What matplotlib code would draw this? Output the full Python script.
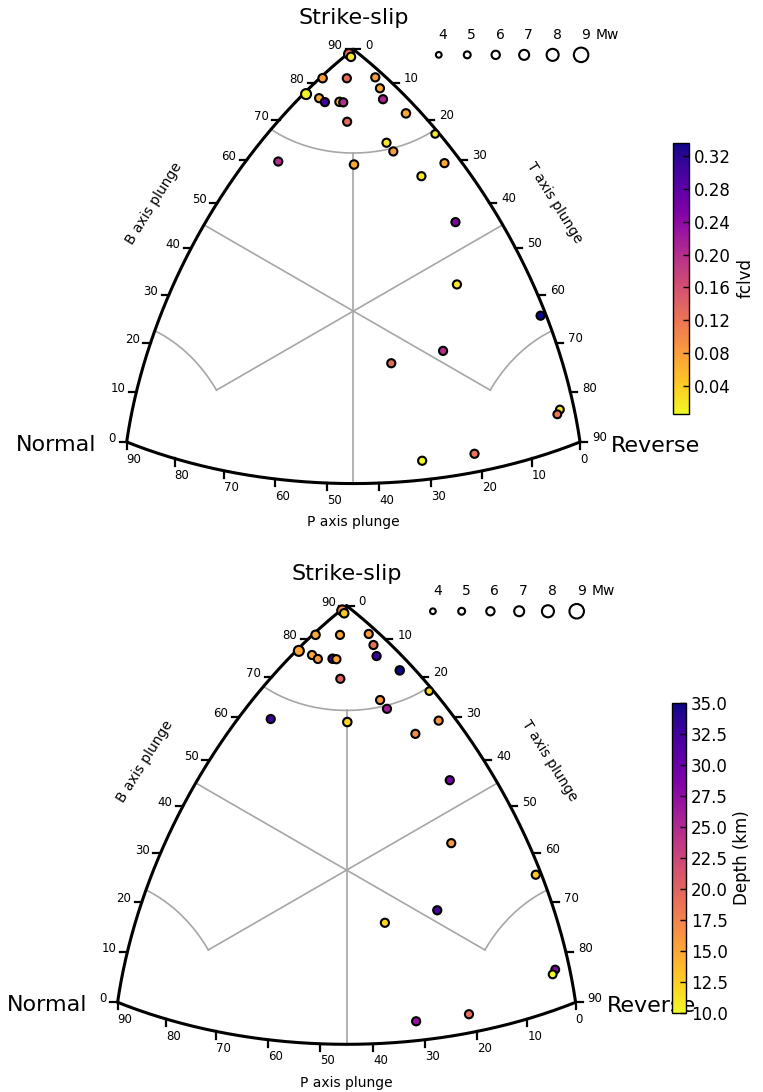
import numpy as np
import matplotlib
matplotlib.use("Agg")
import matplotlib.pyplot as plt

# ---------------- data (plunges in degrees) ----------------
plunge_T = [0.2, 0.9, 0.4, 3.7, 7.2, 9.5, 11.6, 0.4, 2.9, 4.3, 6.3, 6.9, 10.3, 16.6, 23.2,
            18.7, 20.9, 17.4, 28.9, 5.4, 28.2, 39.4, 48.7, 63.9, 55.0, 47.0, 81.8, 82.2, 68.4, 58.2]
plunge_B = [88.6, 88.1, 81.6, 83.6, 82.6, 80.2, 77.8, 77.1, 77.6, 77.3, 78.2, 78.1, 74.1, 73.2, 66.8,
            69.0, 66.8, 65.2, 60.9, 62.6, 60.4, 49.5, 37.7, 26.1, 25.5, 24.4, 7.6, 6.9, 3.8, 4.0]
plunge_P = [1.3, 1.5, 8.4, 5.4, 1.5, 2.5, 3.7, 12.9, 12.0, 11.9, 10.0, 9.6, 12.0, 2.4, 0.7,
            9.4, 9.6, 17.2, 3.0, 26.8, 8.4, 8.1, 14.3, 1.1, 22.3, 32.9, 2.9, 3.6, 21.2, 31.5]
fclvd = [0.12, 0.02, 0.08, 0.13, 0.08, 0.07, 0.21, 0.01, 0.07, 0.30, 0.06, 0.20, 0.13, 0.07, 0.02,
         0.02, 0.08, 0.07, 0.07, 0.20, 0.02, 0.25, 0.02, 0.336, 0.20, 0.13, 0.02, 0.12, 0.12, 0.006]
depth = [17, 13, 15, 15, 16, 19, 33, 15, 15, 16, 33, 15, 20, 35, 12,
         16, 26, 12, 16, 33, 17, 29, 16, 13, 32, 12, 28, 10, 19, 27]
mw = [7.0, 6.1, 6.1, 5.9, 5.9, 5.9, 5.9, 7.0, 5.9, 5.9, 6.1, 5.9, 5.9, 6.1, 5.5,
      5.9, 5.9, 6.1, 5.9, 5.9, 5.9, 5.9, 5.9, 5.9, 5.9, 5.9, 5.7, 5.7, 5.9, 5.9]

legend_mw = [4, 5, 6, 7, 8, 9]
axis_ticks = list(range(0, 91, 10))
fclvd_ticks = [0.04, 0.08, 0.12, 0.16, 0.20, 0.24, 0.28, 0.32]
depth_ticks = [10.0, 12.5, 15.0, 17.5, 20.0, 22.5, 25.0, 27.5, 30.0, 32.5, 35.0]


def msize(m):
    return 17.0 * 1.45 ** (np.asarray(m, dtype=float) - 4.0)


def kave(t, b, p):
    zt = np.sin(np.radians(np.asarray(t, dtype=float)))
    zb = np.sin(np.radians(np.asarray(b, dtype=float)))
    zp = np.sin(np.radians(np.asarray(p, dtype=float)))
    L = 2 * np.sin(0.5 * np.arccos(np.clip((zt + zb + zp) / np.sqrt(3), -1, 1)))
    N = np.sqrt(2 * ((zb - zp) ** 2 + (zb - zt) ** 2 + (zt - zp) ** 2))
    Ns = np.where(N < 1e-12, 1.0, N)
    x = np.where(N < 1e-12, 0.0, np.sqrt(3) * (L / Ns) * (zt - zp))
    y = np.where(N < 1e-12, 0.0, (L / Ns) * (2 * zb - zp - zt))
    return x, y


def third(a, b):
    s = 1 - np.sin(np.radians(a)) ** 2 - np.sin(np.radians(b)) ** 2
    return np.degrees(np.arcsin(np.sqrt(np.clip(s, 0, 1))))


def base(ax):
    gray = "#a6a6a6"
    glw = 1.2
    c = np.degrees(np.arcsin(1 / np.sqrt(3)))
    ts = np.degrees(np.arcsin(np.sqrt((1 - np.sin(np.radians(67.5)) ** 2) / 2)))
    n = 200
    # B = 67.5 arc
    t = np.linspace(0, 22.5, n)
    ax.plot(*kave(t, np.full(n, 67.5), third(t, 67.5)), color=gray, lw=glw)
    # P = 67.5 arc
    t = np.linspace(0, ts, n)
    ax.plot(*kave(t, third(t, 67.5), np.full(n, 67.5)), color=gray, lw=glw)
    # T = 67.5 arc
    p = np.linspace(0, ts, n)
    ax.plot(*kave(np.full(n, 67.5), third(p, 67.5), p), color=gray, lw=glw)
    # B = P line
    t = np.linspace(0, c, n)
    bp = np.degrees(np.arcsin(np.sqrt((1 - np.sin(np.radians(t)) ** 2) / 2)))
    ax.plot(*kave(t, bp, bp), color=gray, lw=glw)
    # B = T line
    p = np.linspace(0, c, n)
    bt = np.degrees(np.arcsin(np.sqrt((1 - np.sin(np.radians(p)) ** 2) / 2)))
    ax.plot(*kave(bt, bt, p), color=gray, lw=glw)
    # T = B line toward P corner
    t = np.linspace(ts, c, n)
    ax.plot(*kave(t, t, third(t, t)), color=gray, lw=glw)
    # P = B line toward T corner
    p = np.linspace(ts, c, n)
    ax.plot(*kave(third(p, p), p, p), color=gray, lw=glw)
    # T = P line
    t = np.linspace(ts, 45, n)
    ax.plot(*kave(t, third(t, t), t), color=gray, lw=glw)

    # frame
    s = np.linspace(0, 90, 400)
    ax.plot(*kave(np.zeros_like(s), s, 90 - s), color="k", lw=2.2, solid_capstyle="round")
    ax.plot(*kave(s, 90 - s, np.zeros_like(s)), color="k", lw=2.2, solid_capstyle="round")
    ax.plot(*kave(s, np.zeros_like(s), 90 - s), color="k", lw=2.2, solid_capstyle="round")

    tl = 0.025
    fs = 8.5
    for v in axis_ticks:
        x, y = kave(0, v, 90 - v)
        ax.plot([x - tl, x], [y, y], color="k", lw=1.6)
        ax.text(x - 0.038, y + 0.012, str(v), ha="right", va="center", fontsize=fs)
        x, y = kave(v, 90 - v, 0)
        ax.plot([x, x + tl], [y, y], color="k", lw=1.6)
        ax.text(x + 0.042, y + 0.014, str(v), ha="left", va="center", fontsize=fs)
        x, y = kave(90 - v, 0, v)
        ax.plot([x, x], [y - tl, y], color="k", lw=1.6)
        ax.text(x, y - 0.037, str(v), ha="left", va="top", fontsize=fs)

    ax.text(0, 1.03, "Strike-slip", ha="center", va="center", fontsize=16)
    ax.text(-0.902, -0.47, "Normal", ha="right", va="center", fontsize=16)
    ax.text(0.905, -0.474, "Reverse", ha="left", va="center", fontsize=16)
    ax.text(0, -0.74, "P axis plunge", ha="center", va="center", fontsize=10)
    ax.text(-0.70, 0.378, "B axis plunge", ha="center", va="center", fontsize=10, rotation=58)
    ax.text(0.705, 0.381, "T axis plunge", ha="center", va="center", fontsize=10, rotation=-58)

    # Mw legend
    lx = 0.3 + 0.1 * np.arange(len(legend_mw))
    ax.scatter(lx, np.full(len(lx), 0.9), s=msize(legend_mw), facecolor="white",
               edgecolor="k", linewidths=1.5, zorder=5)
    for xx, m in zip(lx, legend_mw):
        ax.text(xx, 0.97, str(m), ha="left", va="center", fontsize=10)
    ax.text(0.852, 0.97, "Mw", ha="left", va="center", fontsize=10)


fig = plt.figure(figsize=(7.63, 10.92), dpi=100)

X, Y = kave(plunge_T, plunge_B, plunge_P)

panels = [
    ([0, 0.5, 1, 0.5], (-1.2411, 1.4389), (-0.8251, 1.0927), fclvd, None, None,
     [0.882, 0.6209, 0.021, 0.2482], "fclvd", fclvd_ticks, "%.2f"),
    ([0, 0.0, 1, 0.5], (-1.2051, 1.4478), (-0.7716, 1.1269), depth, 10, 35,
     [0.8807, 0.0723, 0.0183, 0.2839], "Depth (km)", depth_ticks, "%.1f"),
]

for pos, xl, yl, vals, vmin, vmax, cpos, clab, cticks, fmt in panels:
    ax = fig.add_axes(pos)
    ax.set_xlim(*xl)
    ax.set_ylim(*yl)
    ax.axis("off")
    base(ax)
    sc = ax.scatter(X, Y, c=vals, cmap="plasma_r", vmin=vmin, vmax=vmax, s=msize(mw),
                    edgecolors="k", linewidths=1.5, zorder=6)
    cax = fig.add_axes(cpos)
    cb = fig.colorbar(sc, cax=cax, ticks=cticks, format=fmt)
    cb.outline.set_linewidth(1.0)
    cax.tick_params(direction="in", length=4, width=1, labelsize=12, colors="k")
    cb.set_label(clab, fontsize=12)

fig.savefig("out.png", dpi=100)
